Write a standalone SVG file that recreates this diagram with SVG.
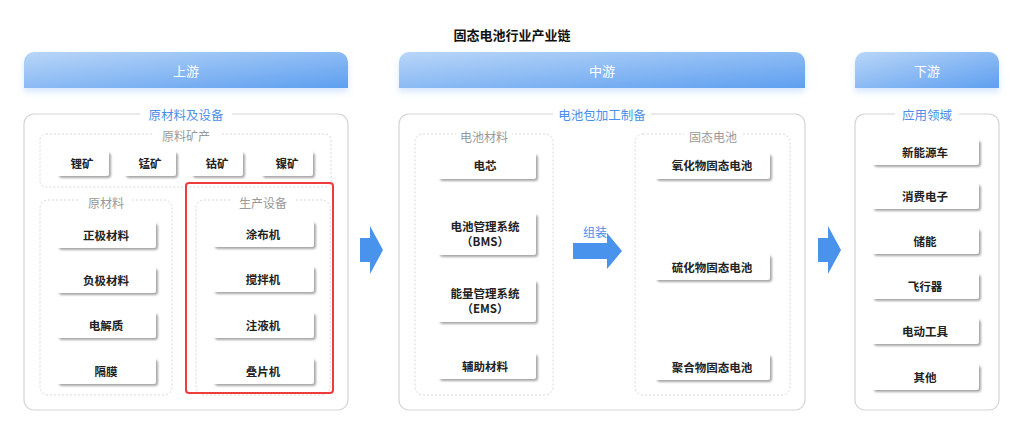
<svg xmlns="http://www.w3.org/2000/svg" width="1016" height="428" viewBox="0 0 1016 428">
<defs>
<linearGradient id="hg" x1="0" y1="0" x2="1" y2="1"><stop offset="0" stop-color="#b9d6f8"/><stop offset="1" stop-color="#5e9ff0"/></linearGradient>
<filter id="sh" x="-20%" y="-30%" width="150%" height="180%"><feDropShadow dx="2" dy="2" stdDeviation="1.2" flood-color="#000" flood-opacity="0.35"/></filter>
<filter id="hs" x="-10%" y="-30%" width="120%" height="180%"><feDropShadow dx="0" dy="4" stdDeviation="3" flood-color="#5e9ff0" flood-opacity="0.25"/></filter>
</defs>
<style>
text{font-family:"Noto Sans CJK SC","Liberation Sans",sans-serif;text-anchor:middle;dominant-baseline:central}
.hdr{fill:url(#hg);filter:url(#hs)}
.ht{fill:#fff;font-size:13px}
.outer{fill:#fff;stroke:#d4d4d4;stroke-width:1.2}
.ot{fill:#4a8fe8;font-size:12.5px}
.inner{fill:#fff;stroke:#d8d8d8;stroke-width:1;stroke-dasharray:2 2}
.it{fill:#999;font-size:12px}
.lbg{fill:#fff}
.n{fill:#fff;filter:url(#sh)}
.nt{fill:#222;font-size:11.5px;font-weight:bold}
.arr{fill:#4a93ec}
</style>
<rect width="1016" height="428" fill="#fff"/>
<text x="512" y="34" font-size="13" font-weight="bold" fill="#111">固态电池行业产业链</text>

<g id="headers">
<path class="hdr" d="M24 88V62a10 10 0 0 1 10-10h304a10 10 0 0 1 10 10v26z"/><text class="ht" x="186" y="70">上游</text>
<path class="hdr" d="M399 88V62a10 10 0 0 1 10-10h386a10 10 0 0 1 10 10v26z"/><text class="ht" x="602" y="70">中游</text>
<path class="hdr" d="M855 88V62a10 10 0 0 1 10-10h124a10 10 0 0 1 10 10v26z"/><text class="ht" x="927" y="70">下游</text>
</g>

<g id="upstream">
<rect class="outer" x="24" y="114" width="324" height="296" rx="10"/>
<rect class="lbg" x="140" y="106" width="92" height="16"/><text class="ot" x="186" y="114">原材料及设备</text>
<rect class="inner" x="40" y="134" width="291" height="53" rx="6"/>
<rect class="lbg" x="152" y="127" width="68" height="16"/><text class="it" x="186" y="135">原料矿产</text>
<g id="ore">
<rect class="n" x="57" y="151" width="52" height="25" rx="3"/><text class="nt" x="82" y="163">锂矿</text>
<rect class="n" x="124" y="151" width="52" height="25" rx="3"/><text class="nt" x="150" y="163">锰矿</text>
<rect class="n" x="191" y="151" width="52" height="25" rx="3"/><text class="nt" x="217" y="163">钴矿</text>
<rect class="n" x="261" y="151" width="52" height="25" rx="3"/><text class="nt" x="287" y="163">镍矿</text>
</g>
<rect class="inner" x="40" y="200" width="132" height="195" rx="8"/>
<rect class="lbg" x="80" y="194" width="52" height="16"/><text class="it" x="106" y="202">原材料</text>
<g id="raw">
<rect class="n" x="57" y="222" width="99" height="26" rx="3"/><text class="nt" x="106" y="235">正极材料</text>
<rect class="n" x="57" y="267" width="99" height="26" rx="3"/><text class="nt" x="106" y="280">负极材料</text>
<rect class="n" x="57" y="312" width="99" height="26" rx="3"/><text class="nt" x="106" y="325">电解质</text>
<rect class="n" x="57" y="358" width="99" height="26" rx="3"/><text class="nt" x="106" y="371">隔膜</text>
</g>
<rect class="inner" x="196" y="200" width="134" height="195" rx="8"/>
<rect class="lbg" x="230" y="194" width="66" height="16"/><text class="it" x="263" y="202">生产设备</text>
<g id="equip">
<rect class="n" x="213" y="221" width="101" height="26" rx="3"/><text class="nt" x="263" y="234">涂布机</text>
<rect class="n" x="213" y="266" width="101" height="26" rx="3"/><text class="nt" x="263" y="279">搅拌机</text>
<rect class="n" x="213" y="312" width="101" height="26" rx="3"/><text class="nt" x="263" y="325">注液机</text>
<rect class="n" x="213" y="358" width="101" height="26" rx="3"/><text class="nt" x="263" y="371">叠片机</text>
</g>
<rect x="186" y="183" width="147" height="210" rx="3" fill="none" stroke="#ee3b3b" stroke-width="2"/>
</g>

<g id="midstream">
<rect class="outer" x="399" y="114" width="406" height="296" rx="10"/>
<rect class="lbg" x="553" y="106" width="98" height="16"/><text class="ot" x="602" y="114">电池包加工制备</text>
<rect class="inner" x="415" y="134" width="138" height="261" rx="8"/>
<rect class="lbg" x="456" y="127" width="56" height="16"/><text class="it" x="484" y="136">电池材料</text>
<rect class="n" x="438" y="153" width="98" height="26" rx="3"/><text class="nt" x="485" y="165">电芯</text>
<rect class="n" x="438" y="213" width="98" height="42" rx="3"/><text class="nt" x="485" y="226">电池管理系统</text><text class="nt" x="485" y="241">（BMS）</text>
<rect class="n" x="438" y="280" width="98" height="42" rx="3"/><text class="nt" x="485" y="293">能量管理系统</text><text class="nt" x="485" y="308">（EMS）</text>
<rect class="n" x="438" y="353" width="98" height="26" rx="3"/><text class="nt" x="485" y="366">辅助材料</text>
<rect class="inner" x="635" y="134" width="155" height="261" rx="8"/>
<rect class="lbg" x="684" y="127" width="58" height="16"/><text class="it" x="713" y="136">固态电池</text>
<rect class="n" x="655" y="153" width="115" height="26" rx="3"/><text class="nt" x="712" y="165">氧化物固态电池</text>
<rect class="n" x="655" y="254" width="115" height="26" rx="3"/><text class="nt" x="712" y="267">硫化物固态电池</text>
<rect class="n" x="655" y="354" width="115" height="26" rx="3"/><text class="nt" x="712" y="367">聚合物固态电池</text>
</g>

<g id="downstream">
<rect class="outer" x="855" y="114" width="144" height="296" rx="10"/>
<rect class="lbg" x="895" y="106" width="64" height="16"/><text class="ot" x="927" y="114">应用领域</text>
<rect class="n" x="872" y="139" width="107" height="26" rx="3"/><text class="nt" x="925" y="152">新能源车</text>
<rect class="n" x="872" y="183" width="107" height="26" rx="3"/><text class="nt" x="925" y="196">消费电子</text>
<rect class="n" x="872" y="228" width="107" height="26" rx="3"/><text class="nt" x="925" y="241">储能</text>
<rect class="n" x="872" y="273" width="107" height="26" rx="3"/><text class="nt" x="925" y="286">飞行器</text>
<rect class="n" x="872" y="318" width="107" height="26" rx="3"/><text class="nt" x="925" y="331">电动工具</text>
<rect class="n" x="872" y="364" width="107" height="26" rx="3"/><text class="nt" x="925" y="377">其他</text>
</g>

<g id="connectors">
<path class="arr" d="M360 238h10v-12l13 24-13 24v-12h-10z"/>
<path class="arr" d="M818 238h10v-12l13 24-13 24v-12h-10z"/>
<text x="595" y="231" font-size="12" fill="#4a8fe8">组装</text>
<path class="arr" d="M573 243h34v-10l15 18-15 18v-10h-34z"/>
</g>
</svg>
